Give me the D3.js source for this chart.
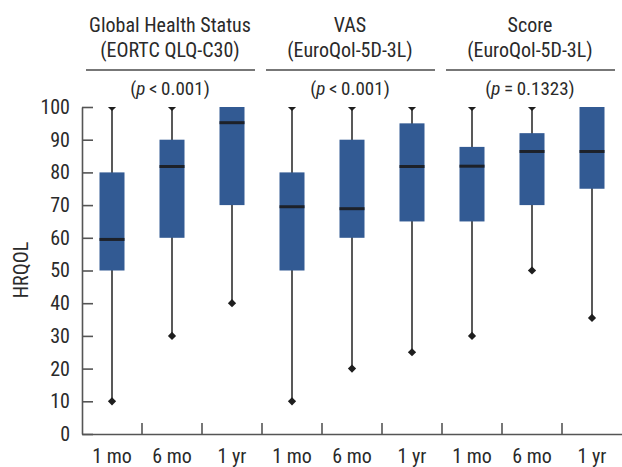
<!DOCTYPE html>
<html>
<head>
<meta charset="utf-8">
<script src="https://cdn.jsdelivr.net/npm/d3@7"></script>
<style>
  body { margin: 0; background: #fff; }
  svg text { font-family: "Liberation Sans Narrow", "Arial Narrow", "Roboto Condensed", sans-serif; fill: #2a2a2a; }
</style>
</head>
<body>
<div id="container"></div>
<script>
const WIDTH = 622;
const HEIGHT = 467;
const LEFT = 82;
const TOP = 107;
const BOTTOM = 434;

// data
const groupTitles = ["Global Health Status", "VAS", "Score"];
const groupSubtitles = ["(EORTC QLQ-C30)", "(EuroQol-5D-3L)", "(EuroQol-5D-3L)"];
const pSigns = ["<", "<", "="];
const pValues = ["0.001", "0.001", "0.1323"];
const times = ["1 mo", "6 mo", "1 yr"];
const yTicks = [0, 10, 20, 30, 40, 50, 60, 70, 80, 90, 100];

const lowWhisker = [10, 30, 40, 10, 20, 25, 30, 50, 35.5];
const q1 = [50, 60, 70, 50, 60, 65, 65, 70, 75];
const median = [59.5, 81.8, 95.2, 69.5, 68.9, 81.8, 81.9, 86.4, 86.4];
const q3 = [80, 90, 100, 80, 90, 95, 87.8, 92, 100];
const highWhisker = [100, 100, 100, 100, 100, 100, 100, 100, 100];

var translate = function (x, y) {
    return "translate(" + x + "," + y + ")";
};

var createChart = function () {
    var keys = d3.range(9).map(function (i) { return i; });
    var rows = keys.map(function (i) {
        return {
            key: i, low: lowWhisker[i], q1: q1[i], med: median[i],
            q3: q3[i], high: highWhisker[i]
        };
    });

    var svg = d3.select("#container").append("svg")
        .attr("width", WIDTH).attr("height", HEIGHT);

    var x = d3.scaleBand().domain(keys).range([LEFT, WIDTH]).padding(0);
    var y = d3.scaleLinear().domain([0, 100]).range([BOTTOM, TOP]);
    var bw = x.bandwidth();
    var boxW = 25;

    svg.append("defs").append("clipPath").attr("id", "plot")
        .append("rect").attr("x", LEFT).attr("y", y(100))
        .attr("width", WIDTH - LEFT).attr("height", BOTTOM - y(100));

    // y axis
    var yAxis = d3.axisLeft(y).tickValues(yTicks).tickSizeInner(-11).tickSizeOuter(0).tickPadding(12);
    var gy = svg.append("g").attr("transform", translate(LEFT, 0)).call(yAxis);
    gy.selectAll("path, line").attr("stroke", "#555").attr("stroke-width", 1.6);
    gy.selectAll("text").attr("font-size", 20).style("font-family", null);

    // x axis
    var xAxis = d3.axisBottom(x).tickSize(0).tickPadding(15)
        .tickFormat(function (d) { return times[d % 3]; });
    var gx = svg.append("g").attr("transform", translate(0, BOTTOM)).call(xAxis);
    gx.select("path").attr("stroke", "#555").attr("stroke-width", 1.6);
    gx.selectAll("text").attr("font-size", 20).style("font-family", null);

    svg.append("g").selectAll("line").data(keys.slice(1)).enter().append("line")
        .attr("x1", function (d) { return x(d); }).attr("x2", function (d) { return x(d); })
        .attr("y1", BOTTOM).attr("y2", BOTTOM - 11)
        .attr("stroke", "#555").attr("stroke-width", 1.6);

    svg.append("text").attr("transform", translate(28, 270) + " rotate(-90)")
        .attr("text-anchor", "middle").attr("font-size", 20).text("HRQOL");

    // boxes
    var g = svg.append("g").attr("clip-path", "url(#plot)");
    var cx = function (d) { return x(d.key) + bw / 2; };

    g.selectAll(".whisker").data(rows).enter().append("line")
        .attr("class", "whisker")
        .attr("x1", cx).attr("x2", cx)
        .attr("y1", function (d) { return y(d.low); })
        .attr("y2", function (d) { return y(d.high); })
        .attr("stroke", "#222").attr("stroke-width", 1.5);

    var diamond = d3.symbol().type(d3.symbolSquare).size(34);
    var ends = [];
    rows.forEach(function (d) {
        ends.push({ key: d.key, v: d.low });
        ends.push({ key: d.key, v: d.high });
    });
    g.selectAll(".end").data(ends).enter().append("path")
        .attr("class", "end")
        .attr("d", diamond)
        .attr("transform", function (d) { return translate(x(d.key) + bw / 2, y(d.v)) + " rotate(45)"; })
        .attr("fill", "#1e1e1e");

    g.selectAll(".box").data(rows).enter().append("rect")
        .attr("class", "box")
        .attr("x", function (d) { return cx(d) - boxW / 2; })
        .attr("width", boxW)
        .attr("y", function (d) { return y(d.q3); })
        .attr("height", function (d) { return y(d.q1) - y(d.q3); })
        .attr("fill", "#325a93");

    g.selectAll(".median").data(rows).enter().append("line")
        .attr("class", "median")
        .attr("x1", function (d) { return cx(d) - boxW / 2; })
        .attr("x2", function (d) { return cx(d) + boxW / 2; })
        .attr("y1", function (d) { return y(d.med); })
        .attr("y2", function (d) { return y(d.med); })
        .attr("stroke", "#1d2129").attr("stroke-width", 3);

    // group headers
    var groups = [0, 1, 2];
    var gh = svg.append("g").selectAll("g").data(groups).enter().append("g");
    var gLeft = function (i) { return x(i * 3); };
    var gRight = function (i) { return x(i * 3 + 2) + bw; };
    var gMid = function (i) { return (gLeft(i) + gRight(i)) / 2 - 2; };

    gh.append("text").attr("x", gMid).attr("y", 32).attr("text-anchor", "middle")
        .attr("font-size", 20).text(function (i) { return groupTitles[i]; });
    gh.append("text").attr("x", gMid).attr("y", 57).attr("text-anchor", "middle")
        .attr("font-size", 20).text(function (i) { return groupSubtitles[i]; });
    gh.append("line")
        .attr("x1", function (i) { return gLeft(i) + 4; })
        .attr("x2", function (i) { return gRight(i) - 7; })
        .attr("y1", 70).attr("y2", 70)
        .attr("stroke", "#777").attr("stroke-width", 1.8);
    var pt = gh.append("text").attr("x", gMid).attr("y", 95).attr("text-anchor", "middle")
        .attr("font-size", 19);
    pt.append("tspan").text("(");
    pt.append("tspan").attr("font-style", "italic").text("p");
    pt.append("tspan").text(function (i) { return "\u2009" + pSigns[i] + "\u2009" + pValues[i] + ")"; });
};

window.onload = createChart;
</script>
</body>
</html>
